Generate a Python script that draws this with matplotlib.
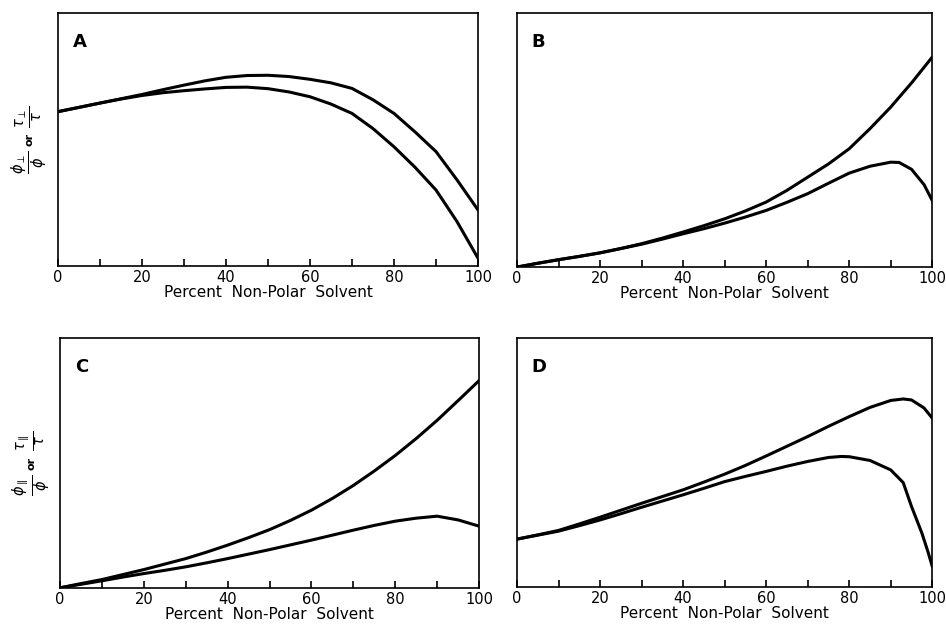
import matplotlib.pyplot as plt
from matplotlib.ticker import MultipleLocator

plt.rcParams['font.family'] = ['DejaVu Sans']

x_a = [0, 5, 10, 15, 20, 25, 30, 35, 40, 45, 50, 55, 60, 65, 70, 75, 80, 85, 90, 95, 100]
a_upper = [0.61, 0.627, 0.644, 0.661, 0.678, 0.697, 0.715, 0.732, 0.746, 0.753, 0.754,
           0.749, 0.738, 0.724, 0.702, 0.657, 0.603, 0.53, 0.452, 0.34, 0.221]
a_lower = [0.61, 0.627, 0.644, 0.66, 0.674, 0.685, 0.693, 0.70, 0.706, 0.707, 0.701,
           0.688, 0.669, 0.64, 0.603, 0.543, 0.471, 0.39, 0.30, 0.175, 0.03]

x_b_upper = [0, 5, 10, 15, 20, 25, 30, 35, 40, 45, 50, 55, 60, 65, 70, 75, 80, 85, 90, 95, 100]
b_upper = [0.0, 0.015, 0.029, 0.042, 0.056, 0.073, 0.092, 0.114, 0.138, 0.163, 0.19,
           0.221, 0.256, 0.302, 0.354, 0.406, 0.466, 0.545, 0.63, 0.725, 0.827]
x_b_lower = [0, 5, 10, 15, 20, 25, 30, 35, 40, 45, 50, 55, 60, 65, 70, 75, 80, 85, 90, 92, 95, 98, 100]
b_lower = [0.0, 0.015, 0.029, 0.042, 0.056, 0.073, 0.09, 0.11, 0.131, 0.151, 0.173,
           0.197, 0.223, 0.255, 0.289, 0.33, 0.37, 0.397, 0.413, 0.412, 0.385, 0.325, 0.262]

x_c = [0, 5, 10, 15, 20, 25, 30, 35, 40, 45, 50, 55, 60, 65, 70, 75, 80, 85, 90, 95, 100]
c_upper = [0.0, 0.017, 0.033, 0.053, 0.073, 0.095, 0.117, 0.143, 0.171, 0.201, 0.233,
           0.27, 0.311, 0.358, 0.41, 0.468, 0.53, 0.598, 0.671, 0.75, 0.83]
c_lower = [0.0, 0.014, 0.028, 0.043, 0.057, 0.07, 0.084, 0.10, 0.117, 0.135, 0.153,
           0.172, 0.191, 0.211, 0.231, 0.25, 0.267, 0.279, 0.287, 0.272, 0.247]

x_d_upper = [0, 5, 10, 15, 20, 25, 30, 35, 40, 45, 50, 55, 60, 65, 70, 75, 80, 85, 90, 93, 95, 98, 100]
d_upper = [0.193, 0.21, 0.228, 0.254, 0.281, 0.309, 0.337, 0.364, 0.391, 0.422, 0.454,
           0.489, 0.527, 0.566, 0.605, 0.646, 0.685, 0.722, 0.750, 0.756, 0.752, 0.72, 0.679]
x_d_lower = [0, 5, 10, 15, 20, 25, 30, 35, 40, 45, 50, 55, 60, 65, 70, 75, 78, 80, 85, 90, 93, 95, 97.5, 99, 100]
d_lower = [0.193, 0.209, 0.225, 0.247, 0.27, 0.295, 0.321, 0.346, 0.371, 0.397, 0.424,
           0.445, 0.465, 0.486, 0.505, 0.521, 0.525, 0.524, 0.509, 0.471, 0.42, 0.324,
           0.217, 0.14, 0.083]

# letter, axes rect, upper curve, lower curve, subscript for the y label (left panels only)
panels = [
    ("A", [0.0613, 0.574, 0.444, 0.405], (x_a, a_upper), (x_a, a_lower), r"\perp"),
    ("B", [0.5465, 0.572, 0.439, 0.407], (x_b_upper, b_upper), (x_b_lower, b_lower), None),
    ("C", [0.0634, 0.058, 0.443, 0.400], (x_c, c_upper), (x_c, c_lower), r"\parallel"),
    ("D", [0.5465, 0.059, 0.439, 0.399], (x_d_upper, d_upper), (x_d_lower, d_lower), None),
]

fig = plt.figure(figsize=(9.46, 6.24), dpi=100)

for letter, rect, upper, lower, sub in panels:
    ax = fig.add_axes(rect)
    ax.plot(upper[0], upper[1], color="black", lw=2.2, solid_capstyle="round")
    ax.plot(lower[0], lower[1], color="black", lw=2.2, solid_capstyle="round")
    ax.set_xlim(0, 100)
    ax.set_ylim(0, 1)
    ax.set_yticks([])
    ax.xaxis.set_major_locator(MultipleLocator(20))
    ax.xaxis.set_minor_locator(MultipleLocator(10))
    ax.tick_params(axis="x", which="both", direction="in", length=5, width=1.2,
                   labelsize=10.5, pad=3)
    for s in ax.spines.values():
        s.set_linewidth(1.2)
    ax.set_xlabel("Percent  Non-Polar  Solvent", fontsize=11, labelpad=0)
    ax.text(0.035, 0.885, letter, transform=ax.transAxes, fontsize=13,
            fontweight="bold", va="center", ha="left")
    if sub:
        # rotated ratio label: phi fraction, small "or", tau fraction
        ax.text(-0.068, 0.41, r"$\frac{\phi_{%s}}{\phi}$" % sub, transform=ax.transAxes,
                rotation=90, fontsize=15, ha="center", va="center")
        ax.text(-0.068, 0.50, "or", transform=ax.transAxes, rotation=90,
                fontsize=8, fontweight="bold", ha="center", va="center")
        ax.text(-0.068, 0.59, r"$\frac{\tau_{%s}}{\tau}$" % sub, transform=ax.transAxes,
                rotation=90, fontsize=15, ha="center", va="center")

fig.savefig("out.png", dpi=100)
